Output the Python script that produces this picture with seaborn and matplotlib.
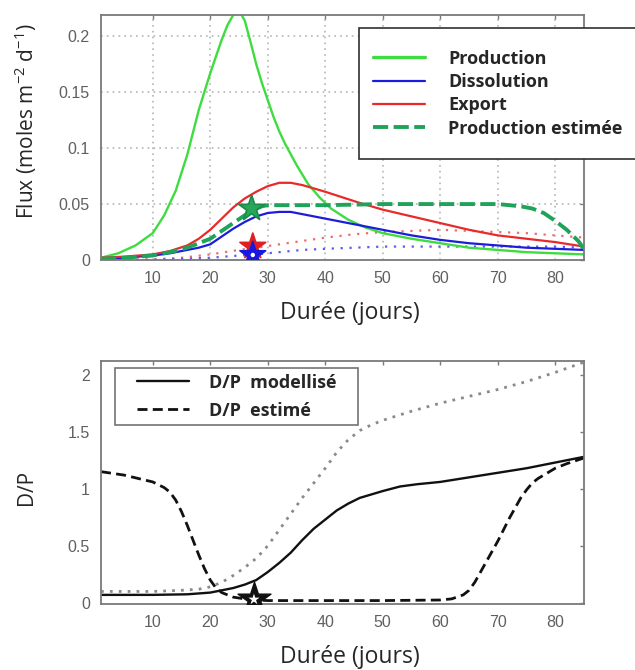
import numpy as np
import pandas as pd
import matplotlib
matplotlib.use("Agg")
import matplotlib.pyplot as plt
from matplotlib.path import Path
import seaborn as sns

# ---------------- data ----------------
# Top panel: fluxes
prod_x = [1, 4, 7, 10, 12, 14, 16, 18, 20, 21, 22, 23, 24, 25, 26, 27, 28, 29, 30, 31, 32, 33,
          35, 37, 39, 41, 44, 47, 50, 55, 60, 65, 70, 75, 80, 85]
prod_y = [0.002, 0.006, 0.013, 0.024, 0.040, 0.062, 0.094, 0.134, 0.167, 0.182, 0.197, 0.210,
          0.219, 0.223, 0.214, 0.195, 0.175, 0.158, 0.143, 0.128, 0.115, 0.104,
          0.085, 0.068, 0.056, 0.046, 0.036, 0.029, 0.024, 0.019, 0.015, 0.011, 0.009, 0.007,
          0.006, 0.005]

exp_x = [1, 5, 10, 13, 16, 18, 20, 22, 24, 26, 28, 30, 32, 34, 36, 38, 40, 43, 46, 50, 55, 60,
         65, 70, 75, 80, 85]
exp_y = [0.002, 0.003, 0.005, 0.008, 0.013, 0.019, 0.027, 0.037, 0.047, 0.055, 0.061, 0.066,
         0.069, 0.069, 0.067, 0.064, 0.061, 0.056, 0.051, 0.045, 0.039, 0.033, 0.027, 0.022,
         0.019, 0.016, 0.012]

dis_x = [1, 5, 10, 13, 16, 18, 20, 22, 24, 26, 28, 30, 32, 34, 36, 38, 40, 43, 46, 50, 55, 60,
         65, 70, 75, 80, 85]
dis_y = [0.001, 0.002, 0.004, 0.006, 0.009, 0.011, 0.014, 0.021, 0.028, 0.034, 0.039, 0.042,
         0.043, 0.043, 0.041, 0.039, 0.037, 0.034, 0.031, 0.027, 0.022, 0.018, 0.015, 0.013,
         0.011, 0.010, 0.009]

est_x = [1, 5, 10, 13, 16, 18, 20, 22, 24, 26, 28, 29, 30, 40, 50, 60, 65, 70, 72, 74, 76, 78,
         80, 82, 84, 85]
est_y = [0.001, 0.002, 0.004, 0.007, 0.011, 0.015, 0.019, 0.026, 0.033, 0.040, 0.046, 0.048,
         0.049, 0.049, 0.050, 0.050, 0.050, 0.050, 0.049, 0.048, 0.046, 0.042, 0.035, 0.027,
         0.017, 0.010]

expdot_x = [1, 10, 15, 20, 25, 28, 32, 36, 40, 45, 50, 55, 60, 65, 70, 75, 80, 85]
expdot_y = [0.0, 0.0005, 0.002, 0.005, 0.009, 0.011, 0.014, 0.017, 0.020, 0.023, 0.025, 0.026,
            0.027, 0.026, 0.025, 0.024, 0.022, 0.020]

disdot_x = [1, 10, 15, 20, 25, 28, 32, 36, 40, 45, 50, 60, 70, 80, 85]
disdot_y = [0.0, 0.0003, 0.001, 0.002, 0.004, 0.005, 0.007, 0.009, 0.010, 0.011, 0.012, 0.012,
            0.012, 0.012, 0.011]

stars_top_x = [27.2, 27.4, 27.4]
stars_top_y = [0.046, 0.012, 0.0045]

# Bottom panel: D/P
dpm_x = [1, 10, 16, 20, 22, 24, 26, 28, 30, 32, 34, 36, 38, 40, 42, 44, 46, 48, 50, 53, 56, 60,
         65, 70, 75, 80, 85]
dpm_y = [0.07, 0.07, 0.075, 0.09, 0.11, 0.13, 0.16, 0.20, 0.27, 0.35, 0.44, 0.55, 0.65, 0.73,
         0.81, 0.87, 0.92, 0.95, 0.98, 1.02, 1.04, 1.06, 1.10, 1.14, 1.18, 1.23, 1.28]

dpe_x = [1, 5, 10, 12, 13, 14, 15, 16, 17, 18, 19, 20, 21, 22, 24, 26, 28, 30, 40, 50, 60, 62,
         64, 65, 66, 67, 68, 69, 70, 71, 72, 73, 74, 75, 76, 77, 78, 80, 82, 85]
dpe_y = [1.15, 1.12, 1.06, 1.01, 0.97, 0.90, 0.80, 0.68, 0.55, 0.42, 0.30, 0.20, 0.13, 0.09,
         0.05, 0.035, 0.025, 0.02, 0.02, 0.02, 0.025, 0.035, 0.07, 0.11, 0.18, 0.27, 0.36,
         0.45, 0.54, 0.64, 0.74, 0.83, 0.92, 0.99, 1.05, 1.09, 1.12, 1.18, 1.22, 1.27]

dpd_x = [1, 10, 15, 18, 20, 22, 24, 26, 28, 30, 32, 34, 36, 38, 40, 42, 44, 46, 48, 50, 55, 60,
         65, 70, 75, 80, 85]
dpd_y = [0.10, 0.10, 0.11, 0.12, 0.14, 0.18, 0.24, 0.31, 0.39, 0.50, 0.64, 0.78, 0.92, 1.05,
         1.18, 1.32, 1.43, 1.51, 1.56, 1.60, 1.68, 1.75, 1.81, 1.87, 1.94, 2.02, 2.11]

star_bot_x = [27.6]
star_bot_y = [0.03]

top_yticks = [0, 0.05, 0.1, 0.15, 0.2]
top_yticklabels = ["0", "0.05", "0.1", "0.15", "0.2"]
bot_yticks = [0, 0.5, 1, 1.5, 2]
bot_yticklabels = ["0", "0.5", "1", "1.5", "2"]
xticks = [10, 20, 30, 40, 50, 60, 70, 80]

# ---------------- style ----------------
sns.set_theme(style="white")
plt.rcParams["font.family"] = ["Open Sans", "DejaVu Sans"]
plt.rcParams["mathtext.fontset"] = "custom"
plt.rcParams["mathtext.rm"] = "Open Sans"

W, H = 635, 670
fig = plt.figure(figsize=(W / 100, H / 100), dpi=100)

def px_axes(l, t, r, b):
    return fig.add_axes([l / W, 1 - b / H, (r - l) / W, (b - t) / H])

ax1 = px_axes(101, 15, 584, 260)
ax2 = px_axes(101, 361, 584, 604)

tick_font = ["Liberation Sans", "DejaVu Sans"]
spine_col = "#7a7a7a"

def style_axis(ax):
    for s in ax.spines.values():
        s.set_color(spine_col)
        s.set_linewidth(1.3)
        s.set_visible(True)
    ax.tick_params(direction="in", length=3, width=1, color=spine_col,
                   top=True, right=True, labelsize=11.5, labelcolor="#606060", pad=8)
    for lab in ax.get_xticklabels() + ax.get_yticklabels():
        lab.set_family(tick_font)

def set_labels(ax, xlabel, ylabel, x_center_y_px, y_center_y_px, ax_top, ax_bot):
    ax.set_xlabel(xlabel, fontsize=16.5)
    ax.set_ylabel(ylabel, fontsize=15)
    ax.xaxis.label.set_va("center")
    ax.yaxis.label.set_va("center")
    h = ax_bot - ax_top
    ax.xaxis.set_label_coords((350 - 101) / 483, -(x_center_y_px - ax_bot) / h)
    ax.yaxis.set_label_coords((26 - 101) / 483, (ax_bot - y_center_y_px) / h)

def make_box(padx, pady):
    def box(x0, y0, width, height, mutation_size):
        return Path([(x0 - padx, y0 - pady), (x0 + width + padx, y0 - pady),
                     (x0 + width + padx, y0 + height + pady), (x0 - padx, y0 + height + pady),
                     (x0 - padx, y0 - pady)], closed=True)
    return box

# ---------------- top panel ----------------
sns.lineplot(x=expdot_x, y=expdot_y, ax=ax1, color="#f06a6a", lw=1.6, linestyle=(0, (1, 3)))
sns.lineplot(x=disdot_x, y=disdot_y, ax=ax1, color="#5a5aee", lw=1.6, linestyle=(0, (1, 3)))
sns.lineplot(x=prod_x, y=prod_y, ax=ax1, color="#3fdc3f", lw=1.7, label="Production")
sns.lineplot(x=dis_x, y=dis_y, ax=ax1, color="#1c1cdc", lw=1.6, label="Dissolution")
sns.lineplot(x=exp_x, y=exp_y, ax=ax1, color="#e82a2a", lw=1.6, label="Export")
sns.lineplot(x=est_x, y=est_y, ax=ax1, color="#1fa35a", lw=2.8,
             linestyle=(0, (3.9, 1.4)), label="Production estimée")
sns.scatterplot(x=stars_top_x, y=stars_top_y, ax=ax1, marker="*", s=[380, 380, 380],
                c=["#25a85a", "#e02020", "#1818e0"], edgecolor=["#1a8a4a", "#e02020", "#1818e0"],
                linewidth=1.2, zorder=5, legend=False)
sns.scatterplot(x=[stars_top_x[2]], y=[stars_top_y[2]], ax=ax1, marker="o", s=10,
                color="white", edgecolor="none", zorder=6, legend=False)

ax1.set_xlim(1, 85)
ax1.set_ylim(0, 0.219)
ax1.set_xticks(xticks)
ax1.set_yticks(top_yticks)
ax1.set_yticklabels(top_yticklabels)
ax1.grid(True, color="#b5b5b5", linestyle=(0, (1, 2.5)), linewidth=1.2)
style_axis(ax1)
set_labels(ax1, "Durée (jours)",
           r"Flux (moles m$^{\mathregular{-2}}$ d$^{\mathregular{-1}}$)", 313, 121, 15, 260)

PADY1 = 8.0
leg1 = ax1.legend(loc="upper left", bbox_to_anchor=(359 / W, 1 - (28 + PADY1) / H),
                  bbox_transform=fig.transFigure, borderaxespad=0,
                  prop={"weight": "bold", "size": 13}, frameon=True, fancybox=False,
                  handlelength=2.9, handletextpad=1.3, labelspacing=0.3, borderpad=0.75)
leg1.get_frame().set_boxstyle(make_box(0.0, PADY1))
leg1.get_frame().set_edgecolor("#303030")
leg1.get_frame().set_linewidth(1.2)
leg1.get_frame().set_alpha(1)
for ln in leg1.get_lines():
    if ln.get_label() == "Production":
        ln.set_linewidth(2.4)

# ---------------- bottom panel ----------------
sns.lineplot(x=dpd_x, y=dpd_y, ax=ax2, color="#8a8a8a", lw=2.0, linestyle=(0, (1, 2.2)))
sns.lineplot(x=dpm_x, y=dpm_y, ax=ax2, color="#111111", lw=1.7, label="D/P  modellisé")
sns.lineplot(x=dpe_x, y=dpe_y, ax=ax2, color="#111111", lw=2.0, linestyle=(0, (3.6, 1.9)),
             label="D/P  estimé")
sns.scatterplot(x=star_bot_x, y=star_bot_y, ax=ax2, marker="*", s=620, color="#111111",
                edgecolor="#111111", linewidth=1.0, zorder=5, legend=False)
sns.scatterplot(x=star_bot_x, y=star_bot_y, ax=ax2, marker="*", s=70, color="white",
                edgecolor="none", zorder=6, legend=False)

ax2.set_xlim(1, 85)
ax2.set_ylim(-0.01, 2.12)
ax2.set_xticks(xticks)
ax2.set_yticks(bot_yticks)
ax2.set_yticklabels(bot_yticklabels)
ax2.grid(False)
style_axis(ax2)
set_labels(ax2, "Durée (jours)", "D/P", 657, 487, 361, 604)

PADX2, PADY2 = 19.0, 3.0
leg2 = ax2.legend(loc="upper left", bbox_to_anchor=((115 + PADX2) / W, 1 - (368 + PADY2) / H),
                  bbox_transform=fig.transFigure, borderaxespad=0,
                  prop={"weight": "bold", "size": 13}, frameon=True, fancybox=False,
                  handlelength=2.9, handletextpad=1.1, labelspacing=0.55, borderpad=0.15)
leg2.get_frame().set_boxstyle(make_box(PADX2, PADY2))
leg2.get_frame().set_edgecolor("#505050")
leg2.get_frame().set_linewidth(1.2)

fig.savefig("out.png", dpi=100)
